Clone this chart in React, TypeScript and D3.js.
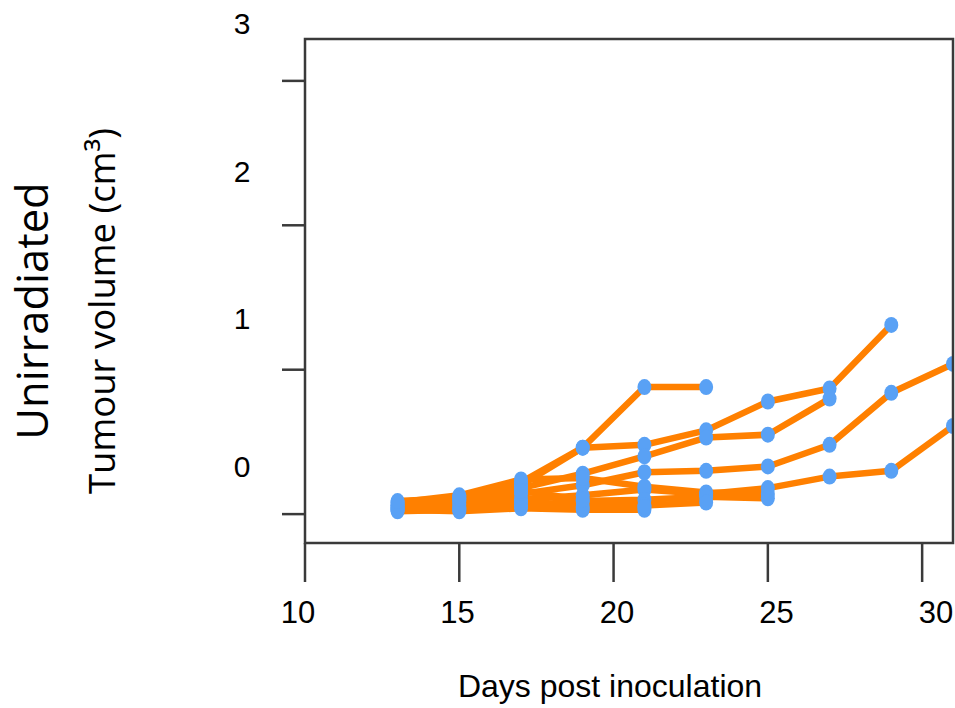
import React from "react";
import * as d3 from "d3";

const days = [13, 15, 17, 19, 21, 23, 25, 27, 29, 31];

const mouse1 = [0.07, 0.10, 0.22, 0.46, 0.88, 0.88];
const mouse2 = [0.05, 0.09, 0.20, 0.46, 0.48, 0.58, 0.78, 0.87, 1.31];
const mouse3 = [0.06, 0.12, 0.18, 0.28, 0.40, 0.53, 0.55, 0.80];
const mouse4 = [0.04, 0.07, 0.14, 0.20, 0.29, 0.30, 0.33, 0.48, 0.84, 1.04];
const mouse5 = [0.03, 0.05, 0.10, 0.13, 0.17, 0.14, 0.18, 0.26, 0.30, 0.61];
const mouse6 = [0.08, 0.13, 0.24, 0.25, 0.19, 0.15, 0.14];
const mouse7 = [0.02, 0.03, 0.06, 0.09, 0.10, 0.12, 0.11];
const mouse8 = [0.06, 0.04, 0.08, 0.05, 0.06, 0.08];
const mouse9 = [0.03, 0.02, 0.04, 0.03, 0.03];
const mouse10 = [0.09, 0.11, 0.16, 0.10, 0.05];

const allSeries = [mouse1, mouse2, mouse3, mouse4, mouse5, mouse6, mouse7, mouse8, mouse9, mouse10];

const xTicks = [10, 15, 20, 25, 30];
const yTicks = [0, 1, 2, 3];

const xTitle = "Days post inoculation";
const yTitle = "Tumour volume (cm³)";
const groupTitle = "Unirradiated";

const W = 955;
const H = 708;
const left = 305;
const right = 953;
const top = 39;
const bottom = 543;

const ORANGE = "#ff8000";
const BLUE = "#59a1f5";
const AXIS = "#3a3a3a";

export default function App() {
  const x = d3.scaleLinear().domain([10, 31]).range([left, right]);
  const y = d3.scaleLinear().domain([-0.2, 3.29]).range([bottom, top]);
  // label placement scales (labels sit offset from ticks in the reference)
  const xLab = d3.scaleLinear().domain([10, 30]).range([298, 936]);
  const yLab = d3.scaleLinear().domain([0, 3]).range([477, 34]);

  const line = d3
    .line<[number, number]>()
    .x((d) => x(d[0]))
    .y((d) => y(d[1]));

  const seriesPts = allSeries.map((s) => s.map((v, i) => [days[i], v] as [number, number]));

  return (
    <svg
      width={W}
      height={H}
      style={{ position: "absolute", left: 0, top: 0, background: "#fff" }}
    >
      <defs>
        <clipPath id="plot">
          <rect x={left} y={top} width={right - left} height={bottom - top} />
        </clipPath>
      </defs>

      <g clipPath="url(#plot)">
        {seriesPts.map((pts, i) => (
          <path
            key={"l" + i}
            d={line(pts) || ""}
            fill="none"
            stroke={ORANGE}
            strokeWidth={6.5}
            strokeLinejoin="round"
            strokeLinecap="round"
          />
        ))}
        {seriesPts.map((pts, i) =>
          pts.map((p, j) => (
            <ellipse
              key={"p" + i + "-" + j}
              cx={x(p[0])}
              cy={y(p[1])}
              rx={7}
              ry={8}
              fill={BLUE}
            />
          ))
        )}
      </g>

      {/* frame */}
      <rect
        x={left}
        y={top}
        width={right - left}
        height={bottom - top}
        fill="none"
        stroke={AXIS}
        strokeWidth={2.5}
      />

      {/* y ticks */}
      {yTicks.map((t) => (
        <g key={"yt" + t}>
          <line x1={282} x2={left} y1={y(t)} y2={y(t)} stroke={AXIS} strokeWidth={2.5} />
          <text
            x={242}
            y={yLab(t)}
            textAnchor="middle"
            fontFamily="Liberation Sans, Arial, sans-serif"
            fontSize={30}
            fill="#000"
          >
            {t}
          </text>
        </g>
      ))}

      {/* x ticks */}
      {xTicks.map((t) => (
        <g key={"xt" + t}>
          <line x1={x(t)} x2={x(t)} y1={bottom} y2={582} stroke={AXIS} strokeWidth={2.5} />
          <text
            x={xLab(t)}
            y={623}
            textAnchor="middle"
            fontFamily="Liberation Sans, Arial, sans-serif"
            fontSize={31}
            fill="#000"
          >
            {t}
          </text>
        </g>
      ))}

      <text
        x={610}
        y={697}
        textAnchor="middle"
        fontFamily="Liberation Sans, Arial, sans-serif"
        fontSize={32}
        fill="#000"
      >
        {xTitle}
      </text>

      <text
        transform="translate(48,311) rotate(-90)"
        textAnchor="middle"
        fontFamily="Open Sans, sans-serif"
        fontSize={43.5}
        fill="#000"
      >
        {groupTitle}
      </text>
      <text
        transform="translate(115,311) rotate(-90)"
        textAnchor="middle"
        fontFamily="Open Sans, sans-serif"
        fontSize={36.5}
        fill="#000"
      >
        {yTitle}
      </text>
    </svg>
  );
}
